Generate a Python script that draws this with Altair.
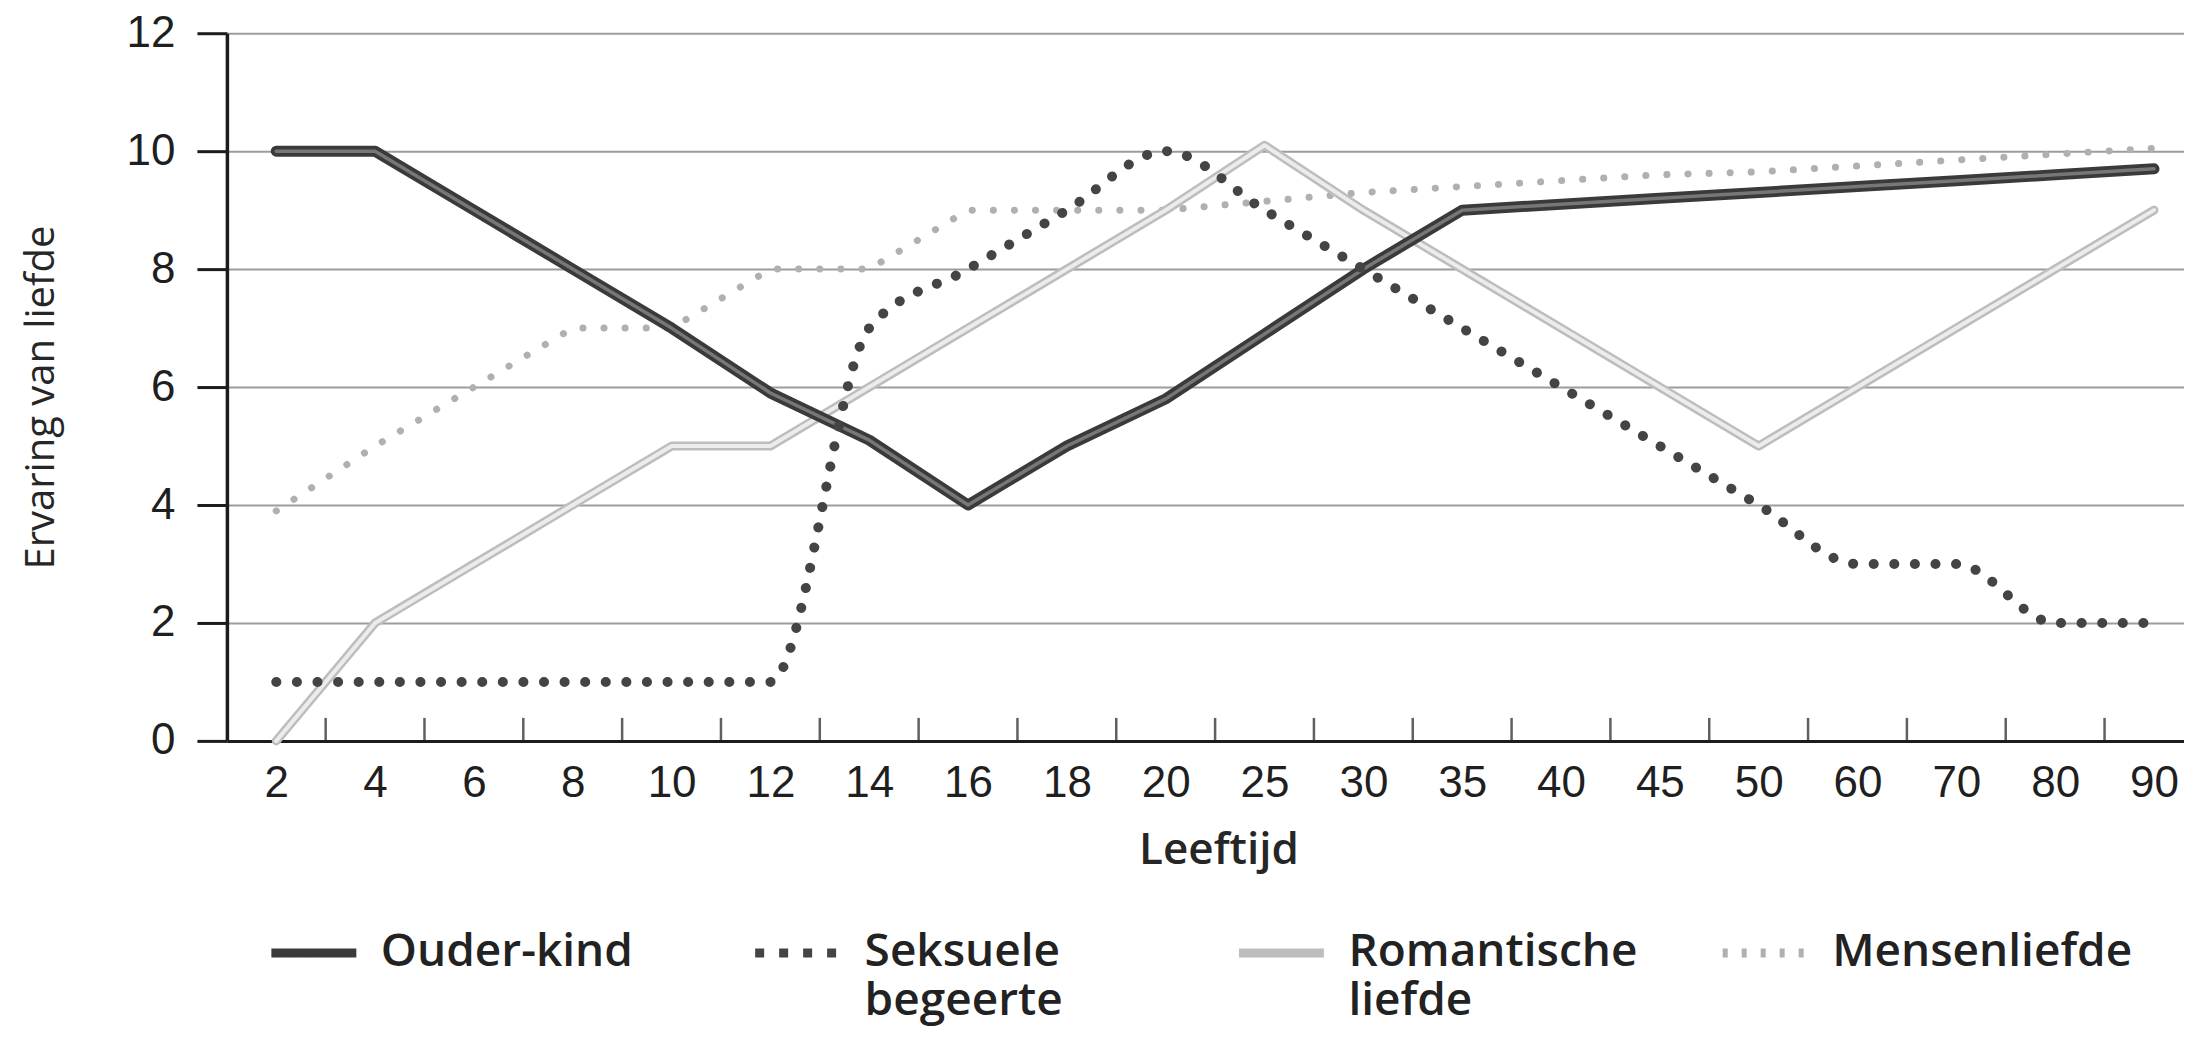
import altair as alt
import pandas as pd

# ---- data ----
leeftijd = ["2", "4", "6", "8", "10", "12", "14", "16", "18", "20",
            "25", "30", "35", "40", "45", "50", "60", "70", "80", "90"]
ouder_kind = [10, 10, 9, 8, 7, 5.9, 5.1, 4, 5, 5.8, 6.9, 8.0, 9.0, 9.1, 9.2, 9.3, 9.4, 9.5, 9.6, 9.7]
seksuele_begeerte = [1, 1, 1, 1, 1, 1, 7, 8, 9, 10, 9, 8, 7, 6, 5, 4, 3, 3, 2, 2]
romantische_liefde = [0, 2, 3, 4, 5, 5, 6, 7, 8, 9, 10.1, 9, 8, 7, 6, 5, 6, 7, 8, 9]
mensenliefde = [3.9, 5, 6, 7, 7, 8, 8, 9, 9, 9, 9.15, 9.3, 9.4, 9.5, 9.6, 9.65, 9.75, 9.85, 9.95, 10.05]
reeksen = ["Ouder-kind", "Seksuele begeerte", "Romantische liefde", "Mensenliefde"]
y_waarden = [0, 2, 4, 6, 8, 10, 12]

# ---- styles ----
kleuren = ["#3a3a3a", "#444444", "#bdbdbd", "#b0b0b0"]
legend_streep = [[1, 0], [9, 15], [1, 0], [5, 14]]

rows = []
for naam, waarden in zip(reeksen, [ouder_kind, seksuele_begeerte, romantische_liefde, mensenliefde]):
    for i, (a, v) in enumerate(zip(leeftijd, waarden)):
        rows.append({"leeftijd": a, "waarde": v, "reeks": naam, "volgorde": i})
df = pd.DataFrame(rows)

tick_df = pd.DataFrame({"leeftijd": leeftijd[:-1], "waarde": [0] * (len(leeftijd) - 1)})

W, H = 1958, 708

x_scale = alt.Scale(type="point", domain=leeftijd, padding=0.4016, align=0.622)
y_scale = alt.Scale(domain=[0, 12], nice=False)

x_axis = alt.Axis(
    title="Leeftijd", labelAngle=0, ticks=False, tickSize=0, labelPadding=21,
    labelFont="Liberation Sans", labelFontSize=44, labelColor="#1f1f1f",
    labelOverlap=False, domainColor="#1c1c1c", domainWidth=3, grid=False,
    titleFont="Open Sans", titleFontSize=44, titleFontWeight=600, titleColor="#262626",
    titleX=992, titleY=110, titleBaseline="middle", titleAlign="center",
)
y_axis = alt.Axis(
    title="Ervaring van liefde", values=y_waarden, tickSize=30, tickWidth=3,
    tickColor="#1c1c1c", labelPadding=22, labelFont="Liberation Sans",
    labelFontSize=44, labelColor="#1f1f1f", labelFlush=False, labelOverlap=False,
    grid=True, gridColor="#9c9c9c", gridWidth=2,
    domainColor="#1c1c1c", domainWidth=3.5,
    titleFont="Open Sans", titleFontSize=40, titleFontWeight="normal",
    titleColor="#262626", titleX=-185, titleY=364, titleBaseline="middle",
)

legend = alt.Legend(
    title=None, orient="none", legendX=40, legendY=886, direction="horizontal",
    columns=4, columnPadding=55, gridAlign="all",
    symbolType="M-1,-0.3L1,-0.3", symbolSize=7225, symbolStrokeWidth=9,
    labelFont="Open Sans", labelFontSize=46, labelFontWeight=600,
    labelColor="#222222", labelBaseline="alphabetic", labelOffset=20, labelLimit=700,
    labelExpr="datum.label == 'Seksuele begeerte' ? ['Seksuele', 'begeerte'] : "
              "datum.label == 'Romantische liefde' ? ['Romantische', 'liefde'] : [datum.label, '']",
)

x_enc = alt.X("leeftijd:N", scale=x_scale, sort=leeftijd, axis=x_axis)
y_enc = alt.Y("waarde:Q", scale=y_scale, axis=y_axis)
color_enc = alt.Color("reeks:N", scale=alt.Scale(domain=reeksen, range=kleuren), legend=legend)
dash_enc = alt.StrokeDash("reeks:N", scale=alt.Scale(domain=reeksen, range=legend_streep), legend=legend)
order_enc = alt.Order("volgorde:Q")


def lijn(naam, **mark):
    return (
        alt.Chart(df)
        .transform_filter(alt.datum.reeks == naam)
        .mark_line(strokeCap="round", strokeJoin="round", **mark)
        .encode(x=x_enc, y=y_enc, color=color_enc, order=order_enc)
    )


def binnen(naam, kleur, dikte):
    return (
        alt.Chart(df)
        .transform_filter(alt.datum.reeks == naam)
        .mark_line(color=kleur, strokeWidth=dikte, strokeCap="round", strokeJoin="round")
        .encode(x=x_enc, y=y_enc, order=order_enc)
    )


# carries the dash patterns for the legend only (no rows drawn)
legenda_laag = (
    alt.Chart(df)
    .transform_filter("false")
    .mark_line()
    .encode(x=x_enc, y=y_enc, color=color_enc, strokeDash=dash_enc, order=order_enc)
)

ticks = (
    alt.Chart(tick_df)
    .mark_tick(orient="vertical", size=23, thickness=2.5, color="#1c1c1c",
               xOffset=49.4, yOffset=-11.5)
    .encode(x=x_enc, y=y_enc)
)

chart = alt.layer(
    legenda_laag,
    ticks,
    lijn("Mensenliefde", strokeWidth=7, strokeDash=[0.1, 21]),
    lijn("Romantische liefde", strokeWidth=9),
    binnen("Romantische liefde", "#ececec", 4),
    lijn("Ouder-kind", strokeWidth=11),
    binnen("Ouder-kind", "#777777", 3.5),
    lijn("Seksuele begeerte", strokeWidth=10, strokeDash=[0.1, 20.5], interpolate="monotone"),
).properties(
    width=W, height=H,
    autosize=alt.AutoSizeParams(type="none"),
    padding={"left": 219, "top": 25, "right": 0, "bottom": 289},
    background="white",
).configure(
    style={"guide-label": {"lineHeight": 49}},
    view=alt.ViewConfig(strokeOpacity=0),
)

chart.save("out.html", embed_options={"renderer": "svg", "actions": False})
